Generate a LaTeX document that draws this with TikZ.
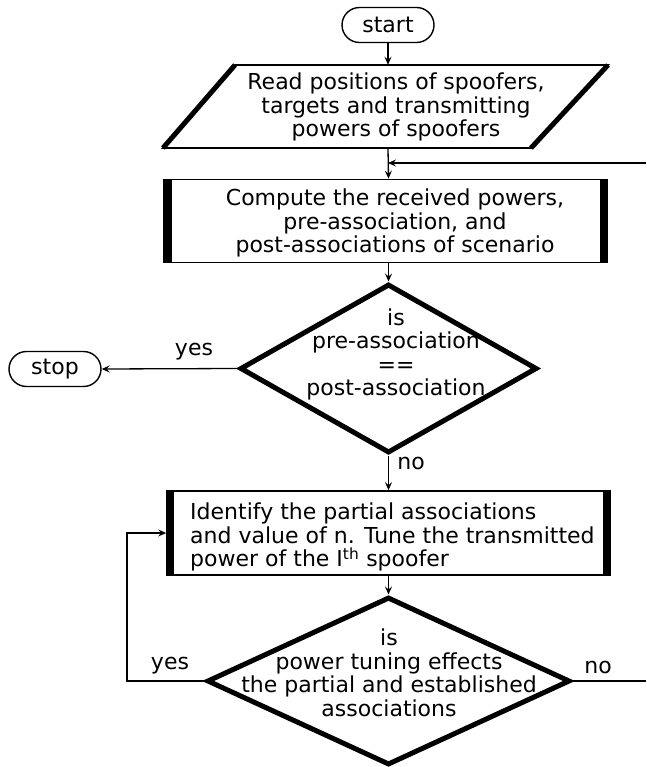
\documentclass[tikz,border=0pt]{standalone}
\usepackage{fontspec}
\setmainfont{DejaVu Sans}
\usetikzlibrary{arrows.meta,shapes.geometric,calc}
\begin{document}
\begin{tikzpicture}[x=1pt,y=-1pt,
  every node/.style={font=\fontsize{22}{23.5}\selectfont},
  conn/.style={line width=1.3pt,-{Stealth[length=8pt,width=7pt,inset=3pt]}},
  plain/.style={line width=1.3pt},
  term/.style={draw,line width=1.4pt,rounded corners=17.5pt,minimum width=92pt,minimum height=35pt,inner sep=0pt},
  procbox/.style={draw,line width=1.7pt,minimum width=443pt,minimum height=83pt,inner sep=0pt},
  bar/.style={fill=black},
  decision/.style={draw,diamond,line width=5pt,inner sep=0pt},
  txt/.style={align=center,inner sep=0pt},
  lbl/.style={inner sep=0pt}]
\useasboundingbox (0,0) rectangle (646,767);

% start
\node[term] (start) at (388,25) {start};

% read (parallelogram)
\draw[line width=1.7pt] (235,65) -- (608,65) -- (531,148) -- (163,148) -- cycle;
\draw[line width=5pt] (163,148) -- (235,65) (608,65) -- (531,148);
\node[txt,minimum height=83pt] (read) at (388,106.5) {};
\node[txt] (readt) at (396,107) {Read positions of spoofers,\\targets and transmitting\\powers of spoofers};

% compute
\node[procbox] (compute) at (385.5,221) {};
\fill[bar] (164,180) rectangle (172,262);
\fill[bar] (600,180) rectangle (607,262);
\node[txt] (computet) at (395,223) {Compute the received powers,\\pre-association, and\\post-associations of scenario};

% decision 1
\node[decision,minimum width=297pt,minimum height=169pt] (dec1) at (388.5,368.5) {};
\node[txt] (dec1t) at (396,354.5) {is\\pre-association\\==\\post-association};

% stop
\node[term] (stop) at (55,369) {stop};

% identify
\node[procbox,minimum height=84pt] (ident) at (388.5,533) {};
\fill[bar] (167,491) rectangle (174,575);
\fill[bar] (603,491) rectangle (610,575);
\node[align=left,anchor=west,inner sep=0pt] (identt) at (190,537) {Identify the partial associations\\and value of n. Tune the transmitted\\power of the I\textsuperscript{th} spoofer};

% decision 2
\node[decision,minimum width=363pt,minimum height=168pt] (dec2) at (388.5,681) {};
\node[txt] (dec2t) at (389,673) {is\\power tuning effects\\the partial and established\\associations};

% coordinates
\coordinate (feedin) at (646,163);
\coordinate (join) at (read.south |- feedin);
\coordinate (loopl) at (127,681);
\coordinate (noend) at (646,681);

% connectors
\draw[conn] (start) -- (read.north);
\draw[conn] (read.south) -- (dec1.north |- compute.north);
\draw[conn] (feedin) -- (join);
\draw[conn] (dec1.north |- compute.south) -- (dec1.north);
\draw[conn] (dec1.west) -- (stop.east);
\draw[conn] (dec1.south) -- (ident.north);
\draw[conn] (ident.south) -- (dec2.north);
\draw[conn] (dec2.west) -- (loopl) |- (ident.west);
\draw[plain] (dec2.east) -- (noend);

% labels
\node[lbl] (yes1) at (194,352) {yes};
\node[lbl] (no1) at (411,463) {no};
\node[lbl] (yes2) at (170,666) {yes};
\node[lbl] (no2) at (598,667) {no};
\end{tikzpicture}
\end{document}
